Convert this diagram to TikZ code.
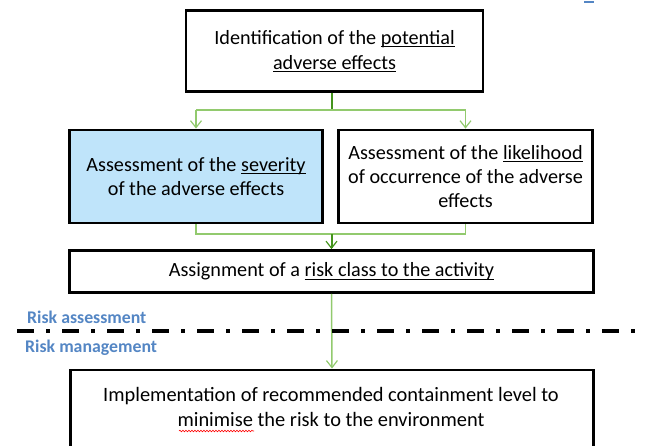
\documentclass[tikz,border=0pt]{standalone}
\usepackage{fontspec}
\setmainfont{Carlito}
\usetikzlibrary{arrows.meta,decorations.pathmorphing}
\definecolor{boxblue}{RGB}{191,228,250}
\definecolor{labelblue}{RGB}{84,134,196}
\definecolor{darkgreen}{RGB}{68,148,28}
\definecolor{lightgreen}{RGB}{146,202,110}
% underline just below the baseline
\newcommand{\ulword}[1]{\setbox0\hbox{#1}\rlap{\rule[-3pt]{\wd0}{1pt}}\box0}
\tikzset{
  x=1pt, y=-1pt,
  stagebox/.style={draw=black, line width=2.8pt, inner sep=0pt, align=center,
    font=\fontsize{20.2}{24}\selectfont},
  trunk/.style={draw=darkgreen, line width=2pt},
  branch/.style={draw=lightgreen, line width=1.5pt},
  tip/.style={-{Straight Barb[length=7pt,width=11pt,line width=1.2pt]}},
  phaselabel/.style={text=labelblue, font=\fontsize{17.8}{20}\selectfont\bfseries, anchor=west, inner sep=0pt},
  phaseline/.style={line width=4pt, dash pattern=on 17pt off 12pt on 4pt off 12pt}
}
\begin{document}
\begin{tikzpicture}
\useasboundingbox (0,0) rectangle (646,445);
\clip (0,0) rectangle (646,445);

% process stages
\node[stagebox, minimum width=297pt, minimum height=81pt] (ident) at (334.5,51)
  {Identification of the \ulword{potential}\\[1pt]\ulword{adverse effects}};
\node[stagebox, fill=boxblue, minimum width=253pt, minimum height=93pt] (sever) at (196,176.5)
  {Assessment of the \ulword{severity}\\of the adverse effects};
\node[stagebox, minimum width=254pt, minimum height=93pt] (likel) at (465.5,176.5)
  {Assessment of the \ulword{likelihood}\\of occurrence of the adverse\\effects};
\node[stagebox, minimum width=524pt, minimum height=42pt] (assign) at (331.5,271.5)
  {Assignment of a \ulword{risk class to the activity}};
\node[stagebox, minimum width=523pt, minimum height=110pt, anchor=north] (impl) at (332,368.5) {};
\node[font=\fontsize{20.4}{25.5}\selectfont, align=center, inner sep=0pt] (impltext) at (331,407)
  {Implementation of recommended containment level to\\
   minimise the risk to the environment};

% spelling squiggle under "minimise"
\coordinate (waveL) at (179,431);
\coordinate (waveR) at (254,431);
\draw[red, line width=0.6pt, decorate, decoration={snake, amplitude=0.8pt, segment length=3pt}] (waveL) -- (waveR);

% split from identification to the two assessments
\coordinate (split) at (assign.north |- 0,110);
\draw[trunk] (ident.south -| split) -- (split);
\draw[branch] (sever.north |- split) -- (likel.north |- split);
\draw[branch, tip] (sever.north |- split) -- (sever.north);
\draw[branch, tip] (likel.north |- split) -- (likel.north);

% join of the assessments into the risk class
\coordinate (join) at (assign.north |- 0,234);
\draw[branch] (sever.south) -- (sever.south |- join) -- (likel.south |- join) -- (likel.south);
\draw[trunk, tip] (join) -- (assign.north);

% risk class leads to containment
\draw[branch, tip] (assign.south) -- (impl.north);

% boundary between the two phases
\coordinate (lineL) at (17,331);
\coordinate (lineR) at (650,331);
\draw[phaseline] (lineL) -- (lineR);
\node[phaselabel] (ra) at (27,317) {Risk assessment};
\node[phaselabel] (rm) at (25,348) {Risk management};

% small blue mark at the top edge
\coordinate (markL) at (584,1.5);
\coordinate (markR) at (594,1.5);
\draw[labelblue, line width=2pt] (markL) -- (markR);
\end{tikzpicture}
\end{document}
